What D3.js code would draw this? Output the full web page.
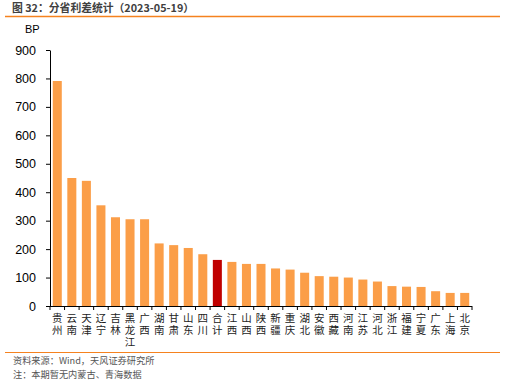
<!DOCTYPE html>
<html><head><meta charset="utf-8">
<script src="https://cdn.jsdelivr.net/npm/d3@7"></script>
<style>body{margin:0;background:#fff}svg{display:block}</style>
</head><body>
<svg id="c" width="507" height="382"></svg>
<script>
const categories = ["贵州","云南","天津","辽宁","吉林","黑龙江","广西","湖南","甘肃","山东","四川","合计","江西","山西","陕西","新疆","重庆","湖北","安徽","西藏","河南","江苏","河北","浙江","福建","宁夏","广东","上海","北京"];
const values = [791,450,440,354,312,305,305,220,214,204,182,162,155,148,148,132,128,117,105,103,100,93,86,70,68,67,52,46,46];
const yTicks = [0,100,200,300,400,500,600,700,800,900];
const highlight = "合计";

(function () {
const svg = d3.select("#c");
const font = "'Liberation Sans', Arial, 'Noto Sans CJK SC', sans-serif";
const cjk = "'Noto Sans CJK SC', sans-serif";
const mLeft = 50, mRight = 472, mTop = 50, mBottom = 306;

const x = d3.scaleBand().domain(categories).range([mLeft, mRight]).paddingInner(0.38).paddingOuter(0.19);
const y = d3.scaleLinear().domain([0, 900]).range([mBottom, mTop]);

// title
svg.append("text").attr("x", 12).attr("y", 12).attr("font-family", cjk).attr("font-size", 10.8)
  .attr("font-weight", "bold").attr("fill", "#404040").text("图 32：分省利差统计（2023-05-19）");
svg.append("line").attr("x1", 5).attr("x2", 500).attr("y1", 16.5).attr("y2", 16.5).attr("stroke", "#F5821F").attr("stroke-width", 1.5);

svg.append("text").attr("x", 25).attr("y", 33).attr("font-family", font).attr("font-size", 11).attr("fill", "#000").text("BP");

// bars
svg.append("g").selectAll("rect").data(categories).join("rect")
  .attr("x", d => x(d)).attr("width", x.bandwidth())
  .attr("y", (d, i) => y(values[i])).attr("height", (d, i) => y(0) - y(values[i]))
  .attr("fill", d => d === highlight ? "#C00000" : "#FB9E48");

// y axis
const ya = svg.append("g").attr("transform", `translate(${mLeft},0)`)
  .call(d3.axisLeft(y).tickValues(yTicks).tickSize(4).tickSizeOuter(0).tickPadding(10));
ya.select(".domain").attr("stroke", "#000");
ya.selectAll(".tick line").attr("stroke", "#000");
ya.selectAll("text").attr("font-family", font).attr("font-size", 12.5).attr("fill", "#000");

// x axis
const xa = svg.append("g").attr("transform", `translate(0,${mBottom})`);
xa.append("line").attr("x1", mLeft - 4).attr("x2", mRight).attr("y1", 0.5).attr("y2", 0.5).attr("stroke", "#000");
const bounds = d3.range(categories.length + 1).map(i => mLeft + i * (mRight - mLeft) / categories.length);
xa.selectAll(".tk").data(bounds).join("line").attr("class", "tk")
  .attr("x1", d => d).attr("x2", d => d).attr("y1", 0).attr("y2", 4).attr("stroke", "#000");
xa.selectAll(".lb").data(categories).join("text").attr("class", "lb")
  .attr("font-family", cjk).attr("font-size", 10.5).attr("fill", "#222")
  .style("writing-mode", "vertical-rl").style("text-orientation", "upright")
  .style("letter-spacing", "1.5px")
  .attr("x", d => x(d) + x.bandwidth() / 2)
  .attr("y", 7)
  .text(d => d);

// footer
svg.append("line").attr("x1", 5).attr("x2", 500).attr("y1", 352.5).attr("y2", 352.5).attr("stroke", "#F5821F").attr("stroke-width", 1);
svg.append("text").attr("x", 13).attr("y", 364).attr("font-family", cjk).attr("font-size", 9.2).attr("fill", "#555").text("资料来源：Wind，天风证券研究所");
svg.append("text").attr("x", 13).attr("y", 378).attr("font-family", cjk).attr("font-size", 9.2).attr("fill", "#555").text("注：本期暂无内蒙古、青海数据");
})();
</script>
</body></html>
